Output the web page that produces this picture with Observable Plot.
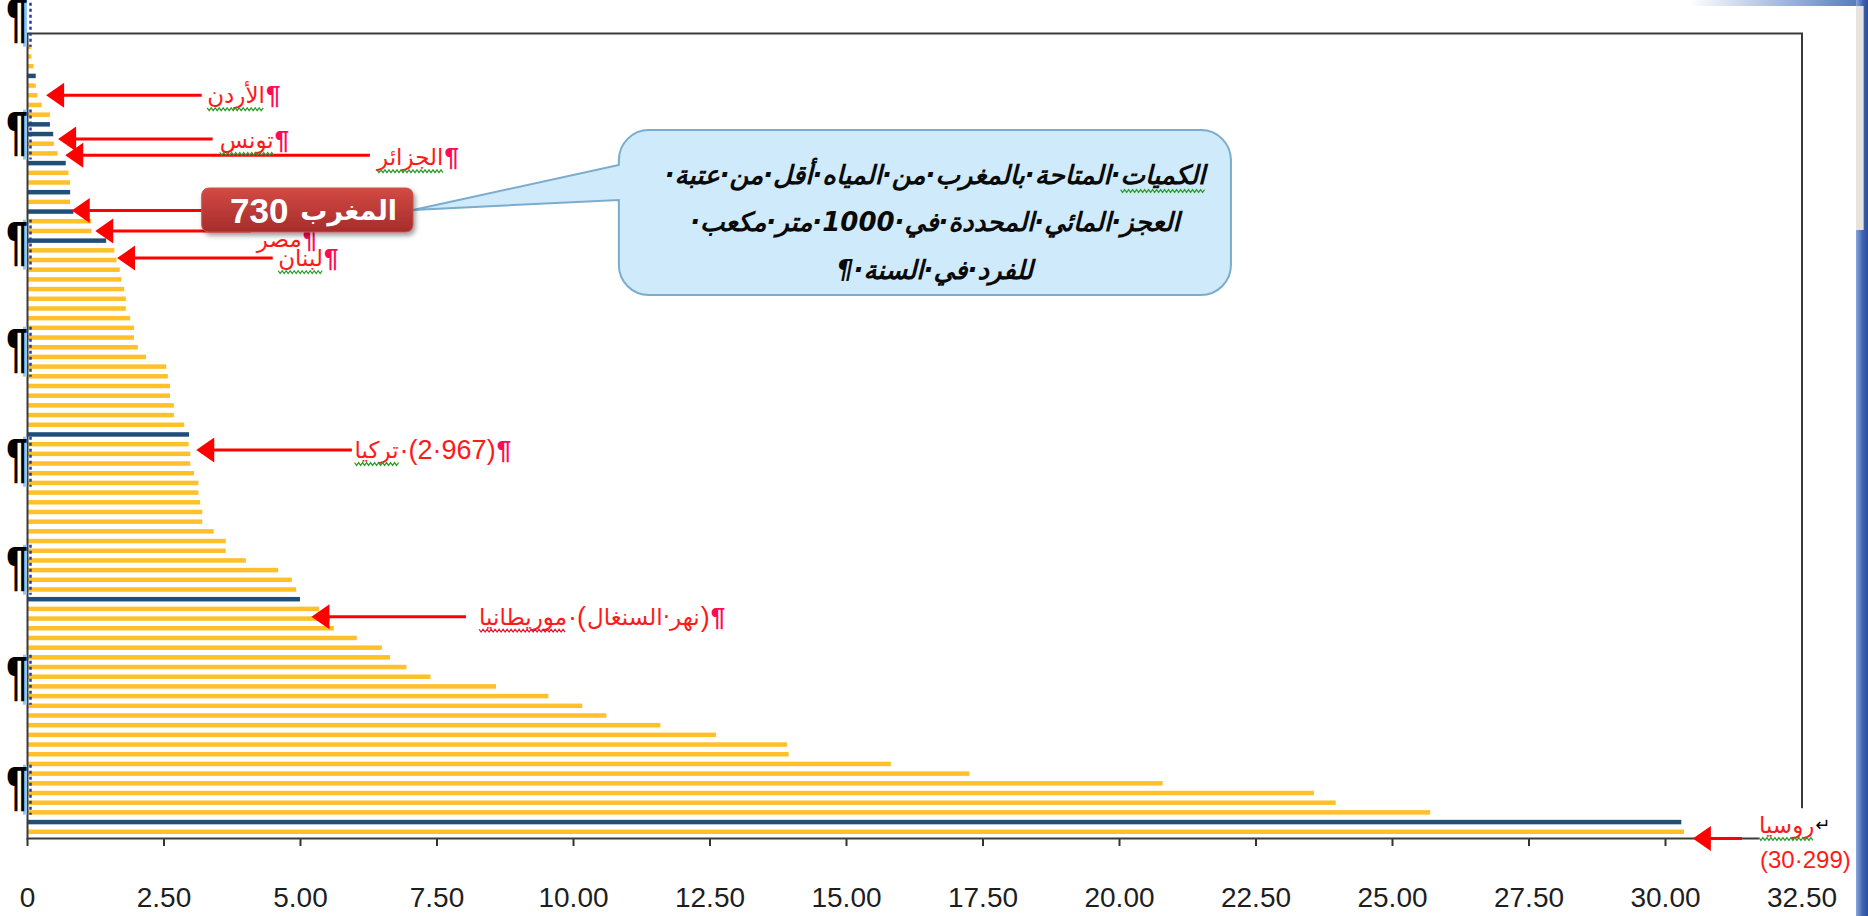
<!DOCTYPE html>
<html>
<head>
<meta charset="utf-8">
<script src="https://cdn.jsdelivr.net/npm/d3@7"></script>
<script src="https://cdn.jsdelivr.net/npm/@observablehq/plot@0.6"></script>
<style>
html, body { margin: 0; padding: 0; background: #fff; }
#wrap { position: relative; width: 1868px; height: 916px; overflow: hidden; background: #fff; }
#chart { position: absolute; left: 0; top: 0; }
#topband { position: absolute; left: 1690px; top: 0; width: 178px; height: 6px;
  background: linear-gradient(90deg, rgba(255,255,255,1), #9db4dc 55%, #4f72b8); }
#rightstrip { position: absolute; left: 1856px; top: 0; width: 12px; height: 916px;
  background: linear-gradient(90deg, #8aa7da, #3f64b2 55%, #2b4e9b); }
#scroll { position: absolute; left: 1856px; top: 6px; width: 7px; height: 224px;
  background: #e7e3df; border-right: 1px solid #b8b2ab; }
#chart svg g[aria-label^="x-axis"] line, #chart svg g[aria-label^="x-axis"] path { stroke: #333; stroke-width: 2px; }
</style>
</head>
<body>
<div id="wrap">
  <div id="chart"></div>
  <div id="topband"></div>
  <div id="rightstrip"></div>
  <div id="scroll"></div>
</div>
<script>
// ---------------- data ----------------
const ranks = d3.range(1, 83); // 82 countries, sorted by renewable water per capita (thousand m3)
const values = [
  0.08, 0.08, 0.12, 0.16, 0.16, 0.19, 0.27, 0.42, 0.42, 0.48,
  0.49, 0.56, 0.71, 0.76, 0.79, 0.79, 0.79, 0.85, 1.18, 1.18,
  1.45, 1.60, 1.64, 1.70, 1.73, 1.78, 1.81, 1.81, 1.89, 1.96,
  1.96, 2.03, 2.18, 2.55, 2.58, 2.62, 2.62, 2.69, 2.69, 2.88,
  2.967, 2.96, 2.99, 2.99, 3.06, 3.14, 3.14, 3.17, 3.21, 3.21,
  3.42, 3.64, 3.64, 4.01, 4.60, 4.85, 4.93, 5.00, 5.35, 5.55,
  5.62, 6.04, 6.50, 6.65, 6.95, 7.39, 8.59, 9.55, 10.17, 10.61,
  11.60, 12.62, 13.92, 13.95, 15.82, 17.26, 20.80, 23.57, 23.97, 25.70,
  30.299, 30.35
];
const highlightedRanks = [4, 9, 10, 13, 16, 18, 21, 41, 58, 81];
const groupNames = ["أخرى", "مميز"];
const groups = ranks.map(r => highlightedRanks.includes(r) ? groupNames[1] : groupNames[0]);
const xTicks = [0, 2.5, 5, 7.5, 10, 12.5, 15, 17.5, 20, 22.5, 25, 27.5, 30, 32.5];

// annotations (anchored in data units: value on x, rank row on y)
const arrowNames = ["الأردن", "تونس", "الجزائر", "المغرب", "مصر", "لبنان", "تركيا", "موريطانيا", "روسيا"];
const arrowTip   = [0.35, 0.57, 0.70, 0.82, 1.25, 1.65, 3.10, 5.21, 30.51];
const arrowTail  = [3.20, 3.40, 6.28, 4.00, 4.10, 4.50, 5.95, 8.04, 31.41];
const arrowRow   = [6.0, 10.5, 12.2, 17.9, 20.0, 22.8, 42.6, 59.8, 82.7];

const labels = [
  {parts: ["الأردن", "¶"], x: 3.30, row: 6.0, wavy: [0]},
  {parts: ["تونس", "¶"], x: 3.53, row: 10.6, wavy: [0]},
  {parts: ["الجزائر", "¶"], x: 6.41, row: 12.4, wavy: [0]},
  {parts: ["مصر", "¶"], x: 4.21, row: 20.8, wavy: []},
  {parts: ["لبنان", "¶"], x: 4.60, row: 22.8, wavy: [0]},
  {parts: ["تركيا", "·(2·967)", "¶"], x: 6.00, row: 42.6, wavy: [0]},
  {parts: ["موريطانيا", "·(", "نهر·السنغال", ")", "¶"], x: 8.28, row: 59.8, wavy: [0], wavyColor: "#e0102a"},
  {parts: ["روسيا", "↵"], x: 31.72, row: 81.3, wavy: [0]},
  {parts: ["(30·299)"], x: 31.74, row: 84.9, wavy: [], size: 24}
];
const boxNumber = "730";
const boxName = "المغرب";
const bubbleLines = [
  "الكميات·المتاحة·بالمغرب·من·المياه·أقل·من·عتبة·",
  "العجز·المائي·المحددة·في·1000·متر·مكعب·",
  "للفرد·في·السنة·¶"
];
const pilcrowRows = [-0.15, 11.5, 22.85, 33.9, 45.25, 56.4, 67.75, 79.1];

// ---------------- chart ----------------
const data = ranks.map((r, i) => ({rank: r, value: values[i], group: groups[i]}));

const plot = Plot.plot({
  width: 1868,
  height: 916,
  marginLeft: 27,
  marginRight: 66.5,
  marginTop: 33,
  marginBottom: 78,
  style: {fontFamily: "'Liberation Sans', Arial, sans-serif", fontSize: "28px", color: "#1e1e1e", background: "transparent", overflow: "visible"},
  x: {domain: [0, 32.5], ticks: xTicks, tickFormat: d => d === 0 ? "0" : d3.format(".2f")(d), tickSize: 8, tickPadding: 41, label: null},
  y: {type: "band", domain: ranks, paddingInner: 0, paddingOuter: 0.535, align: 0.866, axis: null},
  color: {domain: groupNames, range: ["#FFC02A", "#1F4E79"]},
  marks: [
    Plot.barX(data, {x: "value", y: "rank", fill: "group", insetTop: 2.6, insetBottom: 2.6}),
    Plot.frame({stroke: "#3a3a3a", strokeWidth: 2})
  ]
});
document.getElementById("chart").append(plot);

// ---------------- annotations via the plot's scales ----------------
const svg = d3.select(plot);
const sx = plot.scale("x"), sy = plot.scale("y");
const X = v => sx.apply(v);
const yStart = sy.apply(ranks[0]);
const step = (sy.apply(ranks[ranks.length - 1]) - yStart) / (ranks.length - 1);
const Y = r => yStart + step / 2 + (r - 1) * step;

const defs = svg.append("defs");
const grad = defs.append("linearGradient").attr("id", "boxgrad").attr("x1", 0).attr("y1", 0).attr("x2", 0).attr("y2", 1);
grad.append("stop").attr("offset", "0%").attr("stop-color", "#d34a43");
grad.append("stop").attr("offset", "100%").attr("stop-color", "#a52c2b");
const filt = defs.append("filter").attr("id", "shadow").attr("x", "-10%").attr("y", "-20%").attr("width", "130%").attr("height", "160%");
filt.append("feDropShadow").attr("dx", 2).attr("dy", 3).attr("stdDeviation", 2.5).attr("flood-color", "#000").attr("flood-opacity", 0.4);

const g = svg.append("g").attr("class", "annotations").attr("text-anchor", "start");

function wavy(x0, x1, y, color) {
  const pts = [];
  for (let x = x0, k = 0; x <= x1; x += 2, k++) pts.push([x, y + (k % 2 ? 1.4 : -1.4)]);
  g.append("path").attr("d", d3.line()(pts)).attr("fill", "none").attr("stroke", color).attr("stroke-width", 1.2);
}

// white text box behind the Russia label (covers frame corner)
g.append("rect")
  .attr("x", X(31.72)).attr("y", Y(79.57))
  .attr("width", 1868 - X(31.72)).attr("height", Y(87) - Y(79.57))
  .attr("fill", "#fff");

// arrows
arrowNames.forEach((name, i) => {
  const tx = X(arrowTip[i]), ty = Y(arrowRow[i]), ex = X(arrowTail[i]);
  g.append("line").attr("x1", tx + 14).attr("x2", ex).attr("y1", ty).attr("y2", ty)
    .attr("stroke", "#ff0000").attr("stroke-width", 3).attr("aria-label", name);
  g.append("path").attr("d", `M${tx},${ty}L${tx + 18},${ty - 12.5}L${tx + 18},${ty + 12.5}Z`).attr("fill", "#ff0000");
});

// red labels
labels.forEach(lab => {
  let cx = X(lab.x);
  const cy = Y(lab.row);
  lab.parts.forEach((p, i) => {
    const ar = /[\u0600-\u06FF]/.test(p);
    const pil = p === "¶";
    const brk = p === "↵";
    const t = g.append("text")
      .attr("x", cx).attr("y", cy).attr("dy", "0.35em")
      .attr("text-anchor", "start")
      .attr("fill", pil ? "#ff0a55" : brk ? "#000" : "#ff1a1a")
      .attr("font-family", ar || brk ? "'DejaVu Sans', sans-serif" : "'Liberation Sans', Arial, sans-serif")
      .attr("font-size", pil ? 26 : ar ? 23 : brk ? 18 : (lab.size || 27))
      .attr("font-weight", pil ? "bold" : "normal")
      .text(p);
    const w = t.node().getComputedTextLength();
    if (lab.wavy.includes(i)) wavy(cx, cx + w, cy + 14, lab.wavyColor || "#2e9b2e");
    cx += w + 1;
  });
});

// speech bubble
{
  const x0 = X(10.84), x1 = X(22.05), y0 = Y(9.59), y1 = Y(26.61), r = 30;
  const tipX = X(7.07), tipY = Y(17.84), wt = Y(13.2), wb = Y(16.8);
  const d = `M${x0 + r},${y0} H${x1 - r} A${r},${r} 0 0 1 ${x1},${y0 + r} V${y1 - r} A${r},${r} 0 0 1 ${x1 - r},${y1} H${x0 + r} A${r},${r} 0 0 1 ${x0},${y1 - r} V${wb} L${tipX},${tipY} L${x0},${wt} V${y0 + r} A${r},${r} 0 0 1 ${x0 + r},${y0} Z`;
  g.append("path").attr("d", d).attr("fill", "#cfeafa").attr("stroke", "#7aaccd").attr("stroke-width", 2);
  const cxText = X(16.63);
  const rows = [14.23, 19.08, 24.03];
  bubbleLines.forEach((line, i) => {
    const t = g.append("text")
      .attr("x", cxText).attr("y", Y(rows[i])).attr("dy", "0.35em")
      .attr("direction", "rtl").attr("text-anchor", "middle")
      .attr("font-family", "'DejaVu Sans', 'Liberation Sans', sans-serif")
      .attr("font-size", 26).attr("font-style", "italic").attr("font-weight", "bold")
      .attr("fill", "#0a0a0a").text(line);
    if (i === 0) {
      const w = t.node().getComputedTextLength();
      const tmp = g.append("text").attr("font-family", "'DejaVu Sans', sans-serif").attr("font-size", 26)
        .attr("font-style", "italic").attr("font-weight", "bold").text("الكميات");
      const ww = tmp.node().getComputedTextLength();
      tmp.remove();
      const right = cxText + w / 2;
      wavy(right - ww, right, Y(rows[i]) + 16, "#2e9b2e");
    }
  });
}

// Morocco box
{
  const bx0 = X(3.2), bx1 = X(7.07), by0 = Y(15.57), by1 = Y(20.11);
  const mx = (bx0 + bx1) / 2, my = (by0 + by1) / 2;
  g.append("rect").attr("x", bx0).attr("y", by0).attr("width", bx1 - bx0).attr("height", by1 - by0)
    .attr("rx", 7).attr("fill", "url(#boxgrad)").attr("stroke", "#c9544e").attr("stroke-width", 1)
    .attr("filter", "url(#shadow)");
  g.append("text").attr("x", mx - 19).attr("y", my).attr("dy", "0.36em")
    .attr("text-anchor", "end")
    .attr("font-family", "'Liberation Sans', Arial, sans-serif").attr("font-weight", "bold")
    .attr("font-size", 35).attr("fill", "#fff").text(boxNumber);
  g.append("text").attr("x", mx - 7).attr("y", my).attr("dy", "0.36em")
    .attr("text-anchor", "start")
    .attr("font-family", "'DejaVu Sans', sans-serif").attr("font-weight", "bold")
    .attr("font-size", 27).attr("fill", "#fff").text(boxName);
}

// paragraph marks on the left edge (from the source document)
pilcrowRows.forEach(r => {
  const by = Y(r);
  g.append("rect").attr("x", X(0) - 4).attr("y", by - 39).attr("width", 4).attr("height", 50).attr("fill", "#9dc3e6");
  g.append("line").attr("x1", X(0) + 3.5).attr("x2", X(0) + 3.5).attr("y1", by - 39).attr("y2", by + 11)
    .attr("stroke", "#1f3fa0").attr("stroke-width", 2.5).attr("stroke-dasharray", "3,3");
  g.append("text").attr("transform", `translate(${X(0) + 1},${by}) scale(0.72,1)`)
    .attr("text-anchor", "end")
    .attr("font-family", "'Liberation Sans', Arial, sans-serif").attr("font-weight", "bold")
    .attr("font-size", 54).attr("fill", "#000").text("¶");
});
</script>
</body>
</html>
